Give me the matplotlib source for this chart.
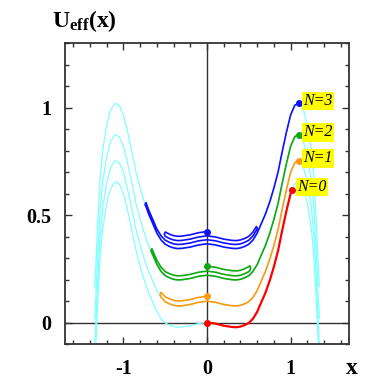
import numpy as np
import matplotlib
matplotlib.use("Agg")
import matplotlib.pyplot as plt
from matplotlib.ticker import MultipleLocator

plt.rcParams["mathtext.fontset"] = "custom"
plt.rcParams["mathtext.bf"] = "Liberation Serif:bold"
plt.rcParams["mathtext.rm"] = "Liberation Serif"
plt.rcParams["mathtext.it"] = "Liberation Serif:italic"

# Base potential profile (N=0 curve), symmetric in x
base_x = [0.0, 0.1, 0.2, 0.3, 0.35, 0.4, 0.45, 0.5, 0.55, 0.6, 0.65, 0.7, 0.75,
          0.8, 0.85, 0.9, 0.95, 1.0, 1.05, 1.1, 1.15, 1.2, 1.25, 1.28, 1.31,
          1.33, 1.345]
base_u = [0.0, -0.005, -0.015, -0.021, -0.022, -0.019, -0.012, -0.002, 0.018,
          0.05, 0.095, 0.14, 0.195, 0.26, 0.335, 0.43, 0.52, 0.60, 0.645,
          0.654, 0.625, 0.555, 0.43, 0.30, 0.08, -0.10, -0.20]

# Vertical level of each potential at x=0 (N = 0..3)
levels = [0.0, 0.099, 0.22, 0.366]
labels = ["N=0", "N=1", "N=2", "N=3"]
colors = ["#ff0000", "#ff9a10", "#10a810", "#1010ff"]

# Turning points of each trajectory and offsets of the successive legs
turns = {
    0: [0.0, 1.02],
    1: [0.0, -0.55, 1.095],
    2: [0.0, 0.51, -0.66, 1.095],
    3: [0.0, -0.50, 0.59, -0.73, 1.095],
}
offsets = {
    0: [0.0],
    1: [0.023, 0.0],
    2: [0.042, 0.019, 0.0],
    3: [0.057, 0.037, 0.019, 0.0],
}

fig = plt.figure(figsize=(3.82, 3.88), dpi=100)
ax = fig.add_axes([0.170, 0.1134, 0.744, 0.7756])

bx = np.array(base_x)
bu = np.array(base_u)
full_x = np.concatenate([-bx[::-1], bx[1:]])
full_u = np.concatenate([bu[::-1], bu[1:]])

def f(x):
    return np.interp(np.abs(x), bx, bu)

ax.axhline(0, color="#333333", lw=1.0, zorder=1)
ax.axvline(0, color="#333333", lw=1.0, zorder=1)

for lv in levels:
    ax.plot(full_x, full_u + lv, color="#80ffff", lw=0.9, zorder=2)

for n in range(4):
    tp = turns[n]
    off = offsets[n]
    lv = levels[n]
    xs, ys = [], []
    for k in range(len(tp) - 1):
        a, b = tp[k], tp[k + 1]
        inner = [v for v in full_x if min(a, b) < v < max(a, b)]
        seg = sorted(inner, reverse=(b < a))
        seg_x = [a] + seg + [b]
        seg_y = [f(v) + lv + off[k] for v in seg_x]
        xs += seg_x
        ys += seg_y
        if k < len(tp) - 2:
            d = 0.012 if b > a else -0.012
            xs.append(b + d)
            ys.append(f(b) + lv + 0.5 * (off[k] + off[k + 1]))
    lw = 1.6 if n == 0 else 1.2
    ax.plot(xs, ys, color=colors[n], lw=lw, zorder=3, solid_capstyle="round")
    ax.plot([tp[0]], [lv + off[0]], "o", color=colors[n], ms=4, zorder=4)
    ax.plot([tp[-1]], [f(tp[-1]) + lv], "o", color=colors[n], ms=4, zorder=4)
    ax.text(tp[-1] + 0.06, f(tp[-1]) + lv + 0.012, labels[n],
            fontsize=11.5, fontstyle="italic", family="Liberation Serif",
            va="center", ha="left", zorder=5,
            bbox=dict(boxstyle="square,pad=0.08", fc="#ffff00", ec="none"))

ax.set_xlim(-1.7, 1.7)
ax.set_ylim(-0.1, 1.3)
ax.xaxis.set_minor_locator(MultipleLocator(0.2))
ax.yaxis.set_minor_locator(MultipleLocator(0.1))
ax.set_yticks([0, 0.5, 1])
ax.set_yticklabels(["0", "0.5", "1"])
ax.set_xticks([-1, 0, 1])
ax.set_xticklabels(["-1", "0", "1"])
ax.tick_params(which="both", direction="in", top=True, right=True,
               width=1.0, color="#333333")
ax.tick_params(which="major", length=5, labelsize=14.5)
ax.tick_params(axis="x", which="major", pad=11)
ax.tick_params(axis="y", which="major", pad=10)
ax.tick_params(which="minor", length=3)
for lab in ax.get_xticklabels() + ax.get_yticklabels():
    lab.set_fontfamily("Liberation Serif")
    lab.set_fontweight("bold")
for s in ax.spines.values():
    s.set_linewidth(1.3)
    s.set_color("#333333")

fig.text(0.136, 0.93, r"$\mathbf{U_{eff}(x)}$", fontsize=17,
         ha="left", va="baseline")
fig.text(0.905, 0.036, "x", fontsize=17, fontweight="bold",
         family="Liberation Serif", ha="left", va="baseline")

fig.savefig("out.png", dpi=100)
